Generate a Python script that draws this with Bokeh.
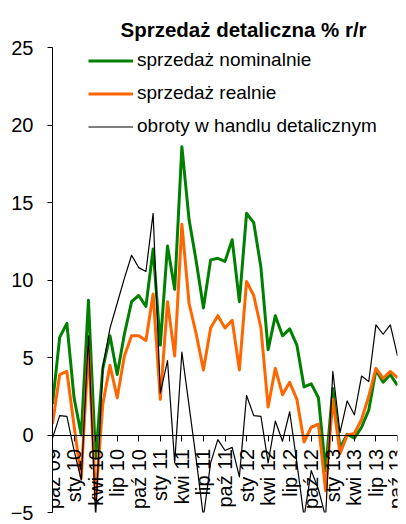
from math import pi
from bokeh.plotting import figure
from bokeh.models import Range1d, FixedTicker, Legend, LegendItem
from bokeh.embed import file_html
from bokeh.resources import INLINE

months = ["paź 09", "lis 09", "gru 09",
          "sty 10", "lut 10", "mar 10", "kwi 10", "maj 10", "cze 10",
          "lip 10", "sie 10", "wrz 10", "paź 10", "lis 10", "gru 10",
          "sty 11", "lut 11", "mar 11", "kwi 11", "maj 11", "cze 11",
          "lip 11", "sie 11", "wrz 11", "paź 11", "lis 11", "gru 11",
          "sty 12", "lut 12", "mar 12", "kwi 12", "maj 12", "cze 12",
          "lip 12", "sie 12", "wrz 12", "paź 12", "lis 12", "gru 12",
          "sty 13", "lut 13", "mar 13", "kwi 13", "maj 13", "cze 13",
          "lip 13", "sie 13", "wrz 13", "paź 13"]

nominal = [2.0, 6.3, 7.2, 2.4, 0.0, 8.7, -1.5, 4.3, 6.4, 3.9,
           6.5, 8.6, 9.0, 8.3, 12.0, 5.8, 12.2, 9.4, 18.6, 13.9,
           11.2, 8.2, 11.3, 11.4, 11.2, 12.6, 8.6, 14.3, 13.7, 10.8,
           5.5, 7.7, 6.4, 6.85, 5.8, 3.1, 3.3, 2.4, -2.3, 3.0,
           -0.85, 0.05, -0.2, 0.5, 1.6, 4.2, 3.4, 3.9, 3.2]

real = [0.7, 3.9, 4.1, 0.6, -2.8, 5.7, -4.2, 2.0, 4.5, 2.4,
        5.1, 6.4, 6.4, 6.1, 9.1, 2.3, 8.6, 5.1, 13.6, 8.5,
        6.5, 4.2, 6.9, 7.7, 6.9, 7.4, 4.2, 9.9, 9.0, 6.9,
        1.8, 4.3, 2.6, 3.4, 2.3, -0.45, 0.5, 0.7, -3.6, 2.3,
        -1.2, 0.0, 0.1, 1.0, 2.5, 4.3, 3.65, 4.1, 3.7]

turnover = [-0.2, 1.25, 1.2, -1.0, -2.9, 6.4, -5.3, 4.4, 6.9, 8.5,
            10.1, 11.6, 10.8, 10.55, 14.3, 2.7, 4.8, -1.8, 5.35, 1.9,
            -1.6, -5.3, -1.8, -0.3, -1.0, -0.8, -2.7, 2.55, 1.25, 1.2,
            -1.8, 0.9, -0.4, 1.5, -1.8, -5.3, -2.3, -3.5, -5.3, 4.1,
            0.15, 2.2, 1.3, 3.8, 3.45, 7.1, 6.5, 7.1, 5.1]

series_names = ["sprzedaż nominalnie", "sprzedaż realnie", "obroty w handlu detalicznym"]
y_ticks = [-5, 0, 5, 10, 15, 20, 25]
label_step = 3

FONT = "Liberation Sans"

x = list(range(len(months)))
tick_idx = x[::label_step]

p = figure(width=406, height=524, output_backend="svg", toolbar_location=None,
           x_range=Range1d(0, len(months) - 1), y_range=Range1d(-5, 25),
           min_border_left=52, min_border_right=9, min_border_top=47,
           min_border_bottom=12, background_fill_color="white",
           border_fill_color="white")

p.title.text = "Sprzedaż detaliczna % r/r"
p.title.text_font = FONT
p.title.text_font_size = "20.5px"
p.title.text_font_style = "bold"
p.title.text_color = "black"
p.title.align = "left"
p.title.offset = 68
p.title.standoff = 14

r1 = p.line(x, nominal, line_color="#008000", line_width=3, line_join="round")
r2 = p.line(x, real, line_color="#FF6600", line_width=3, line_join="round")
r3 = p.line(x, turnover, line_color="black", line_width=1.2, line_join="round")

legend = Legend(items=[LegendItem(label=series_names[0], renderers=[r1]),
                       LegendItem(label=series_names[1], renderers=[r2]),
                       LegendItem(label=series_names[2], renderers=[r3])],
                location=(36, 369.5), orientation="vertical",
                padding=0, margin=0, spacing=0,
                label_height=33, glyph_height=33, glyph_width=45,
                label_standoff=4, border_line_color=None,
                background_fill_alpha=0,
                label_text_font=FONT, label_text_font_size="19px",
                label_text_color="black")
p.add_layout(legend, "center")

xa = p.xaxis[0]
xa.fixed_location = 0
xa.ticker = FixedTicker(ticks=tick_idx)
xa.major_label_overrides = {i: months[i] for i in tick_idx}
xa.major_label_orientation = pi / 2
xa.minor_tick_line_color = None
xa.major_tick_out = 6
xa.major_tick_in = 0
xa.major_label_standoff = 8
xa.major_label_text_font = FONT
xa.major_label_text_font_size = "20px"
xa.major_label_text_color = "black"
xa.axis_line_color = "black"
xa.major_tick_line_color = "black"

ya = p.yaxis[0]
ya.ticker = FixedTicker(ticks=y_ticks)
ya.minor_tick_line_color = None
ya.major_tick_out = 5
ya.major_tick_in = 0
ya.major_label_standoff = 14
ya.major_label_text_font = FONT
ya.major_label_text_font_size = "20px"
ya.major_label_text_color = "black"
ya.axis_line_color = "black"
ya.major_tick_line_color = "black"

p.xgrid.visible = False
p.ygrid.visible = False
p.outline_line_color = None

open("out.html", "w").write(file_html(p, INLINE))
